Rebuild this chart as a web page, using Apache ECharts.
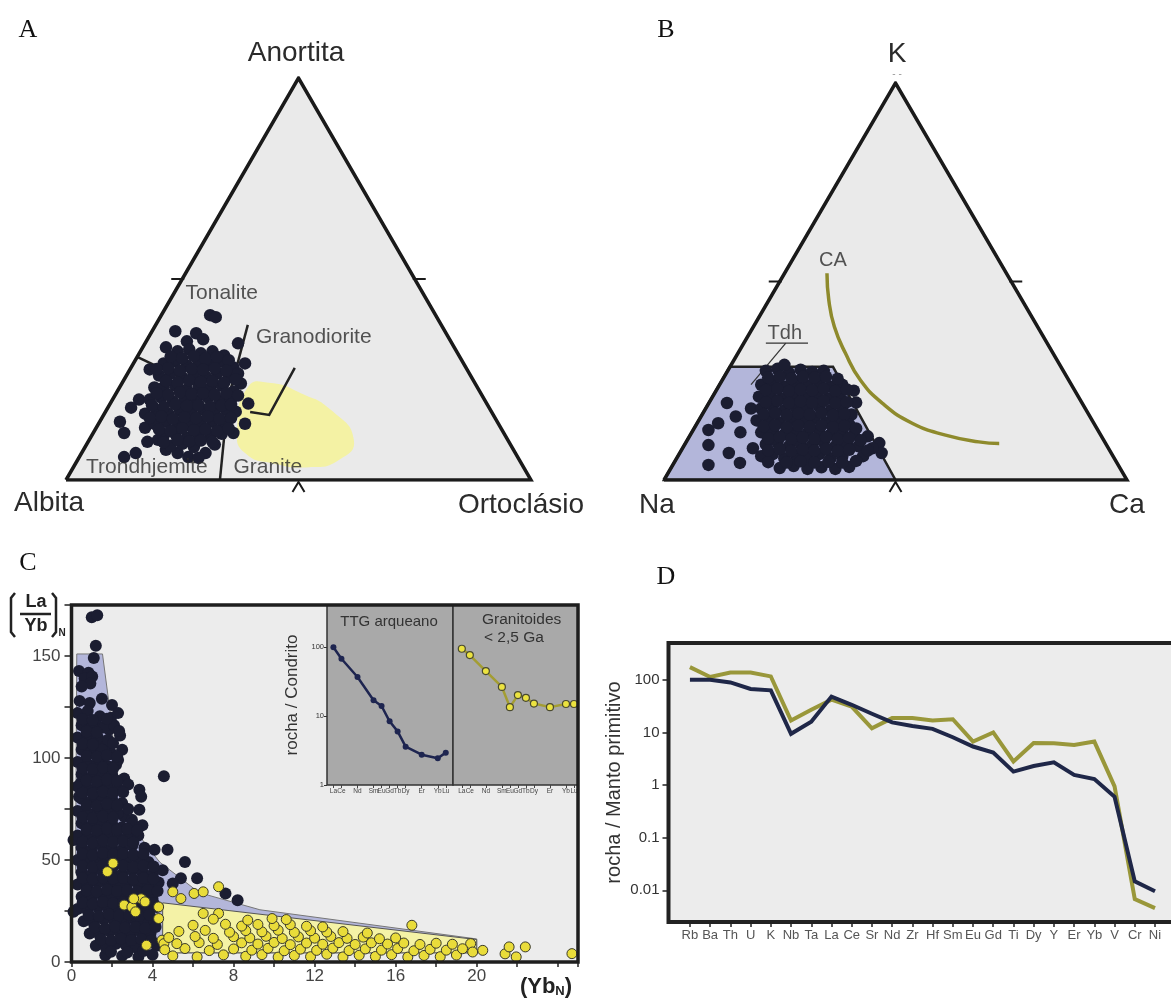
<!DOCTYPE html>
<html>
<head>
<meta charset="utf-8">
<script src="https://cdn.jsdelivr.net/npm/echarts@6/dist/echarts.min.js"></script>
<style>
  html, body { margin: 0; padding: 0; background: #fff; }
  #chart { width: 1171px; height: 1003px; }
</style>
</head>
<body>
<div id="chart"></div>
<script>
const FONT = '"Liberation Sans", Arial, Helvetica, sans-serif'
const SERIF = '"Liberation Serif", "Times New Roman", serif'

// ---- ternary frame (x along base 0..100, y = height 0..100) ----
const triangle = [[0, 0], [100, 0], [50, 100], [0, 0]]
const sideTicks = [[25, 50, 0], [75, 50, 1], [50, 0, 2]]

// ---- A: An-Ab-Or ----
const tonTrondLine = [[15.3, 30.6], [34.8, 19.9]]
const tonGranodLine = [[39.1, 38.6], [34.8, 19.9]]
const trondGraniteLine = [[34.8, 19.9], [33.1, 0]]
const granodGraniteLine = [[49.2, 27.9], [43.7, 16.2], [39.6, 16.9]]
const graniteField = [[36.8, 11.7], [39.1, 23.1], [44.1, 24.1], [50.5, 21.6], [57, 17.4], [61.9, 10], [58.7, 5], [52.3, 3.2], [44.1, 4.2], [38.5, 6.7]]
const samplesA = [
  [31, 41], [32.2, 40.5], [23.5, 37], [28, 36.5], [29.5, 35], [26, 34.5], [37, 34], [21.5, 33], [38.5, 29], [18, 27.5],
  [19, 23], [15.7, 20], [14, 18], [11.6, 14.5], [12.5, 11.7], [12.5, 5.7], [15, 6.7], [17, 13], [19.8, 10], [21.5, 7.5],
  [24, 6.7], [26.3, 5.7], [30, 6.7], [36, 11.7], [38.5, 14], [37.6, 24], [39.2, 19], [34.4, 17.4],
  [24, 32], [26.5, 32.5], [29, 31.5], [31.5, 32], [34, 31],
  [21, 29], [23.5, 29.5], [26, 28.5], [28.5, 29.2], [31, 28.8], [33.5, 29.5], [36, 28],
  [20, 26], [22.5, 26.5], [25, 25.5], [27.5, 26.2], [30, 25.8], [32.5, 26.5], [35, 25.5],
  [21, 23], [23.5, 23.5], [26, 22.5], [28.5, 23.2], [31, 22.8], [33.5, 23.5], [36, 22],
  [18, 20], [20.5, 20.5], [23, 19.5], [25.5, 20.2], [28, 19.8], [30.5, 20.5], [33, 19.5], [35.5, 20],
  [17, 16.5], [19.5, 17], [22, 16.5], [24.5, 17.2], [27, 16.8], [29.5, 17.5], [32, 16.5], [36.5, 17],
  [19, 14], [21.5, 14.5], [24, 13.5], [26.5, 14.2], [29, 13.8], [31.5, 14.5], [34, 13.5],
  [21, 11], [23.5, 11.5], [26, 10.5], [28.5, 11.2], [31, 10.8], [33.5, 11.5],
  [22.5, 8.5], [25, 9], [27.5, 8.2], [32, 8.8], [28.5, 5.5], [17.5, 9.5],
  [22.5, 30.7], [25, 30.3], [27.5, 30.8], [30, 30.2], [32.5, 30.6], [35, 29.8],
  [19.5, 27.6], [22, 27.8], [24.5, 27.2], [27, 27.6], [29.5, 27.4], [32, 27.8], [34.5, 27.2], [37, 26.5],
  [21.5, 24.6], [24, 24.2], [26.5, 24.8], [29, 24.4], [31.5, 24.6], [34, 24.2], [36.5, 25],
  [19.5, 21.6], [22, 21.2], [24.5, 21.8], [27, 21.4], [29.5, 21.6], [32, 21.2], [34.5, 21.6], [37, 21],
  [18.5, 18.6], [21, 18.2], [23.5, 18.8], [26, 18.4], [28.5, 18.6], [31, 18.2], [33.5, 18.5], [35.5, 18.7],
  [18, 15.4], [20.5, 15.8], [23, 15.2], [25.5, 15.6], [28, 15.4], [30.5, 15.8], [33, 15.2], [35.5, 15.4],
  [20, 12.6], [22.5, 12.2], [25, 12.8], [27.5, 12.4], [30, 12.6], [32.5, 12.2], [35, 12.8],
  [24, 10], [26.5, 9.6], [29, 9.8], [31.5, 9.5], [21, 9.4]
]
const labelsA = [
  { name: 'Tonalite', value: [33.5, 46.5] },
  { name: 'Granodiorite', value: [53.3, 35.6] },
  { name: 'Trondhjemite', value: [17.4, 3.2] },
  { name: 'Granite', value: [43.4, 3.2] }
]

// ---- B: K-Na-Ca ----
const tdhField = [[0, 0], [14.2, 28.5], [36.5, 28.5], [50, 0]]
const caCurve = [[35.2, 52.1], [35.6, 45.3], [36.8, 38.6], [39.2, 31.9], [42.4, 25.2], [47.2, 19.3], [53.6, 14.3], [60.8, 11.3], [68, 9.6], [72.4, 9.2]]
const tdhLeader = [[26.3, 34.5], [18.8, 24]]
const tdhUnderline = [[22, 34.5], [31.1, 34.5]]
const samplesB = [
  [13.6, 19.4], [15.5, 16], [9.6, 12.6], [11.7, 14.3], [9.6, 8.8], [9.6, 3.8], [14, 6.8], [16.4, 4.3], [19.2, 8], [18.8, 18], [16.5, 12],
  [22, 27.5], [24.5, 28], [27, 27], [29.5, 27.8], [32, 27.2], [34.5, 27.5], [26, 29],
  [21, 24], [23.5, 24.5], [26, 23.5], [28.5, 24.2], [31, 23.8], [33.5, 24.5], [36, 23.5], [38.5, 24], [41, 22.5],
  [20.5, 21], [23, 21.5], [25.5, 20.5], [28, 21.2], [30.5, 20.8], [33, 21.5], [35.5, 20.5], [38, 21], [41.5, 19.5],
  [21, 18], [23.5, 18.5], [26, 17.5], [28.5, 18.2], [31, 17.8], [33.5, 18.5], [36, 17.5], [38.5, 18], [40.5, 16.5],
  [20, 15], [22.5, 15.5], [25, 14.5], [27.5, 15.2], [30, 14.8], [32.5, 15.5], [35, 14.5], [37.5, 15], [40, 14],
  [21, 12], [23.5, 12.5], [26, 11.5], [28.5, 12.2], [31, 11.8], [33.5, 12.5], [36, 11.5], [38.5, 12], [41, 11.5], [44, 11],
  [22, 9], [24.5, 9.5], [27, 8.5], [29.5, 9.2], [32, 8.8], [34.5, 9.5], [37, 8.5], [39.5, 9], [42, 8.5], [46.5, 9.3],
  [21, 6], [23.5, 6.5], [26, 5.5], [28.5, 6.2], [31, 5.8], [33.5, 6.5], [36, 5.5], [38.5, 6], [43, 6], [47, 6.8], [45, 8],
  [25, 3], [28, 3.5], [31, 2.8], [34, 3.2], [37, 2.8], [40, 3.3],
  [22.5, 25.8], [25, 26], [27.5, 25.6], [30, 26], [32.5, 25.8], [35, 26], [37.5, 25.5],
  [22, 22.7], [24.5, 23], [27, 22.4], [29.5, 22.8], [32, 22.6], [34.5, 23], [37, 22.4], [39.5, 22.8],
  [22, 19.6], [24.5, 19.9], [27, 19.4], [29.5, 19.8], [32, 19.5], [34.5, 19.9], [37, 19.4], [39.5, 19.6],
  [21.5, 16.6], [24, 16.9], [26.5, 16.4], [29, 16.8], [31.5, 16.5], [34, 16.9], [36.5, 16.4], [39, 16.6],
  [21.5, 13.5], [24, 13.8], [26.5, 13.3], [29, 13.7], [31.5, 13.4], [34, 13.8], [36.5, 13.3], [39, 13.6], [41.5, 13],
  [22.5, 10.5], [25, 10.8], [27.5, 10.3], [30, 10.7], [32.5, 10.4], [35, 10.8], [37.5, 10.3], [40, 10.6], [42.5, 10],
  [22.5, 7.5], [25, 7.8], [27.5, 7.3], [30, 7.7], [32.5, 7.4], [35, 7.8], [37.5, 7.3], [40, 7.6], [44, 7.4],
  [22.5, 4.5], [26.5, 4.4], [29.5, 4.7], [32.5, 4.4], [35.5, 4.6], [38.5, 4.4], [41.5, 4.8]
]
const labelsB = [
  { name: 'Tdh', value: [26.1, 37] },
  { name: 'CA', value: [36.5, 55.4] }
]

// ---- C: (La/Yb)N vs YbN ----
const archeanField = [[0.26, 151], [1.53, 151], [1.9, 123], [2.47, 73], [4.35, 49], [6.3, 34], [9.3, 25.6], [20, 11.3], [20, 4.5], [4.5, 4.5], [0.8, 26], [0.2, 44]]
const youngField = [[4.5, 29], [20, 11], [20, 4.5], [4.5, 4.5]]
const ttgC = [
  [1.0, 169], [1.27, 170], [1.2, 155], [1.1, 149], [0.37, 142.6], [0.84, 141.8], [0.65, 139], [1.02, 140], [0.93, 136.5], [0.5, 135],
  [1.95, 119.7], [1.86, 114], [1.4, 120.5], [1.3, 115.6], [2.2, 96.7], [1.5, 99], [1.77, 105.7], [0.74, 105.7], [1.3, 107], [0.56, 97.5], [0.46, 87.7], [0.37, 81],
  [4.56, 91], [3.35, 84.4], [3.44, 81], [3.35, 74.6], [2.6, 71.3], [2.98, 69.7],
  [5.6, 49], [4.74, 55], [6.2, 41], [7.6, 33.6], [8.2, 30.3], [5.4, 41], [5.0, 38.5], [4.0, 38.5], [1.67, 3.3], [0.1, 24.6], [0.1, 59.8],
  [0.4, 128], [0.9, 127], [1.5, 129], [2.0, 126],
  [0.3, 122], [0.8, 123], [2.3, 122],
  [0.5, 116], [1.0, 117], [1.6, 115], [2.1, 116],
  [0.3, 110], [0.8, 111], [1.3, 110], [1.8, 109], [2.4, 111],
  [0.5, 104], [1.0, 103], [1.5, 104], [2.0, 102], [2.5, 104],
  [0.3, 98], [0.8, 97], [1.3, 98], [1.8, 96], [2.3, 99],
  [0.5, 92], [1.0, 91], [1.5, 93], [2.0, 92], [2.6, 90],
  [0.3, 86], [0.8, 85], [1.3, 87], [1.8, 86], [2.3, 85], [2.8, 87],
  [0.5, 80], [1.0, 79], [1.5, 81], [2.0, 80], [2.5, 78],
  [0.3, 74], [0.8, 73], [1.3, 75], [1.8, 74], [2.3, 73], [2.8, 75],
  [0.5, 68], [1.0, 67], [1.5, 69], [2.0, 68], [2.5, 66], [3.0, 68], [3.5, 67],
  [0.3, 62], [0.8, 61], [1.3, 63], [1.8, 62], [2.3, 61], [2.8, 63], [3.3, 62],
  [0.5, 56], [1.0, 55], [1.5, 57], [2.0, 56], [2.5, 55], [3.0, 57], [3.6, 56], [4.1, 55],
  [0.3, 50], [0.8, 49], [1.3, 51], [1.8, 50], [2.3, 49], [2.8, 51], [3.3, 50], [3.8, 49],
  [0.5, 44], [1.0, 43], [1.5, 45], [2.0, 44], [2.5, 43], [3.0, 45], [3.5, 44], [4.0, 43], [4.5, 45],
  [0.3, 38], [0.8, 37], [1.3, 39], [1.8, 38], [2.3, 37], [2.8, 39], [3.3, 38], [3.8, 37], [4.3, 39],
  [0.5, 32], [1.0, 31], [1.5, 33], [2.0, 32], [2.5, 31], [3.0, 33], [3.5, 32], [4.0, 31],
  [0.3, 26], [0.8, 25], [1.3, 27], [1.8, 26], [2.3, 25], [2.8, 27], [3.3, 26], [3.8, 25], [4.2, 27],
  [0.6, 20], [1.1, 19], [1.6, 21], [2.1, 20], [2.6, 19], [3.1, 21], [3.6, 20], [4.1, 19],
  [0.9, 14], [1.4, 13], [1.9, 15], [2.4, 14], [2.9, 13], [3.4, 15], [3.9, 14],
  [1.2, 8], [1.7, 7], [2.2, 9], [2.7, 8], [3.2, 7], [3.7, 9], [4.2, 8],
  [2.5, 3], [3.3, 2.5], [4.0, 3.5],
  [0.55, 59], [1.05, 58.5], [1.55, 59.5], [2.05, 58.8], [2.55, 59.2], [3.05, 58.6],
  [0.55, 53], [1.05, 52.5], [1.55, 53.4], [2.05, 52.8], [2.55, 53.2], [3.05, 52.6], [3.55, 53],
  [0.55, 47], [1.05, 46.6], [1.55, 47.4], [2.05, 46.8], [2.55, 47.2], [3.05, 46.6], [3.55, 47.2], [4.05, 46.8],
  [0.55, 41], [1.05, 40.6], [1.55, 41.4], [2.05, 40.8], [2.55, 41.2], [3.05, 40.6], [3.55, 41.2], [4.05, 40.8],
  [0.75, 35], [1.25, 34.6], [1.75, 35.4], [2.25, 34.8], [2.75, 35.2], [3.25, 34.6], [3.75, 35.2], [4.25, 34.8],
  [0.55, 29], [1.05, 28.6], [1.55, 29.4], [2.05, 28.8], [2.55, 29.2], [3.05, 28.6], [3.55, 29.2], [4.05, 28.8],
  [0.85, 23], [1.35, 22.6], [1.85, 23.4], [2.35, 22.8], [2.85, 23.2], [3.35, 22.6], [3.85, 23.2],
  [1.15, 17], [1.65, 16.6], [2.15, 17.4], [2.65, 16.8], [3.15, 17.2], [3.65, 16.6], [4.15, 17.2],
  [1.45, 11], [1.95, 10.6], [2.45, 11.4], [2.95, 10.8], [3.45, 11.2], [3.95, 10.6],
  [1.95, 5], [2.75, 4.6], [3.55, 5.4],
  [0.75, 65], [1.25, 64.6], [1.75, 65.4], [2.25, 64.8], [2.75, 65.2], [3.25, 64.6],
  [0.55, 71], [1.05, 70.6], [1.55, 71.4], [2.05, 70.8],
  [0.75, 77], [1.25, 76.6], [1.75, 77.4], [2.25, 76.8],
  [0.55, 83], [1.05, 82.6], [1.55, 83.4], [2.05, 82.8], [2.55, 83.2],
  [0.75, 89], [1.25, 88.6], [1.75, 89.4], [2.25, 88.8],
  [0.55, 95], [1.05, 94.6], [1.55, 95.4], [2.05, 94.8],
  [0.75, 101], [1.25, 100.6], [1.75, 101.4], [2.25, 100.8],
  [0.55, 107], [1.05, 106.6], [2.05, 107.2],
  [0.75, 113], [1.25, 112.6], [2.35, 113.2],
  [0.55, 119], [1.05, 118.6], [1.75, 119.2]
]
const youngC = [
  [1.77, 44.3], [2.05, 48.4], [2.6, 27.9], [2.98, 27], [3.16, 24.6], [3.44, 31], [3.63, 29.5], [3.07, 31], [4.3, 21.3], [4.3, 27],
  [4.47, 10.7], [4.56, 9], [3.7, 8.2], [5.0, 34.4], [5.4, 31.1], [6.05, 33.6], [6.5, 34.4], [7.26, 36.9], [6.5, 23.8], [7.26, 23.8],
  [16.8, 18], [20.3, 5.7], [21.4, 4], [21.95, 2.5], [21.6, 7.4], [22.4, 7.4], [24.7, 4.1], [19.7, 9], [19.8, 4.9],
  [5.0, 3], [6.2, 2.5], [7.5, 3.5], [8.6, 2.8], [9.4, 3.6], [10.2, 2.4], [11.0, 3.2], [11.8, 2.6], [12.6, 3.8], [13.4, 2.5],
  [14.2, 3.3], [15.0, 2.7], [15.8, 3.6], [16.6, 2.4], [17.4, 3.2], [18.2, 2.6], [19.0, 3.4],
  [4.6, 6], [5.6, 6.6], [6.8, 5.6], [8.0, 6.4], [8.9, 5.8], [9.7, 6.7], [10.5, 5.5], [11.3, 6.3], [12.1, 5.7], [12.9, 6.8],
  [13.7, 5.6], [14.5, 6.4], [15.3, 5.8], [16.1, 6.6], [16.9, 5.5], [17.7, 6.2], [18.5, 5.8], [19.3, 6.5],
  [5.2, 9], [6.3, 9.5], [7.2, 8.6], [8.4, 9.4], [9.2, 8.8], [10.0, 9.6], [10.8, 8.5], [11.6, 9.3], [12.4, 8.7], [13.2, 9.5],
  [14.0, 8.6], [14.8, 9.4], [15.6, 8.8], [16.4, 9.3], [17.2, 8.6], [18.0, 9.2], [18.8, 8.7],
  [4.8, 12], [6.1, 12.5], [7.0, 11.6], [8.0, 12.4], [8.8, 11.8], [9.6, 12.6], [10.4, 11.5], [11.2, 12.3], [12.0, 11.7], [12.8, 12.5],
  [13.6, 11.6], [14.4, 12.2], [15.2, 11.4], [16.0, 11.8],
  [5.3, 15], [6.6, 15.5], [7.8, 14.6], [8.6, 15.4], [9.4, 14.8], [10.2, 15.6], [11.0, 14.5], [11.8, 15.3], [12.6, 14.7], [13.4, 14.9], [14.6, 14.2],
  [6.0, 18], [7.6, 18.5], [8.4, 17.6], [9.2, 18.4], [10.0, 17.8], [10.8, 18.3], [11.6, 17.5], [12.4, 17.2],
  [7.0, 21], [8.7, 20.5], [9.9, 21.3], [10.6, 20.8]
]

// ---- C inset: REE patterns ----
const reeLabels = ['La', 'Ce', 'Nd', 'Sm', 'Eu', 'Gd', 'Tb', 'Dy', 'Er', 'Yb', 'Lu']
const reeAtomic = [57, 58, 60, 62, 63, 64, 65, 66, 68, 70, 71]
const reeTTG = [100, 68, 37, 17, 14, 8.4, 6, 3.6, 2.75, 2.45, 2.95]
const reeYoung = [95, 77, 45, 26.5, 13.5, 20.2, 18.4, 15.2, 13.5, 15, 15]

// ---- D: spider diagram ----
const elements = ['Rb', 'Ba', 'Th', 'U', 'K', 'Nb', 'Ta', 'La', 'Ce', 'Sr', 'Nd', 'Zr', 'Hf', 'Sm', 'Eu', 'Gd', 'Ti', 'Dy', 'Y', 'Er', 'Yb', 'V', 'Cr', 'Ni']
const spiderTTG = [100, 100, 89, 67, 63, 9.4, 16, 48, 33.5, 22.6, 15.5, 13.3, 11.7, 8.1, 5.4, 4.15, 1.8, 2.3, 2.7, 1.56, 1.3, 0.6, 0.0148, 0.0096]
const spiderYoung = [174, 113, 138, 138, 116, 16.8, 27, 42, 31, 12, 18.7, 18.7, 16.8, 17.8, 6.7, 10, 2.8, 6.3, 6.2, 5.8, 6.7, 0.94, 0.0068, 0.0046]
const spiderTicks = [0.01, 0.1, 1, 10, 100]

const NAVY = '#1b1d31'
const OLIVE = '#99973a'
const TEXT = '#2b2b2b'

// helpers
const polygonSeries = (g, pts, style, z, smooth) => ({
  type: 'custom', xAxisIndex: g, yAxisIndex: g, z: z, silent: true,
  data: [pts[0]],
  renderItem: (params, api) => ({
    type: 'polygon',
    shape: { points: pts.map(p => api.coord(p)), smooth: smooth || 0 },
    style: style
  })
})
const lineSeries = (g, pts, color, width, z, smooth) => ({
  type: 'line', xAxisIndex: g, yAxisIndex: g, z: z, silent: true,
  data: pts, symbol: 'none', smooth: !!smooth,
  lineStyle: { color: color, width: width, join: 'miter' }
})
const dotSeries = (g, pts, size, itemStyle, z) => ({
  type: 'scatter', xAxisIndex: g, yAxisIndex: g, z: z, silent: true,
  data: pts, symbolSize: size, clip: false, itemStyle: Object.assign({ opacity: 1 }, itemStyle)
})
const textSeries = (g, items, size, z) => ({
  type: 'scatter', xAxisIndex: g, yAxisIndex: g, z: z, silent: true, clip: false,
  data: items, symbolSize: 1, itemStyle: { color: 'transparent' },
  label: { show: true, position: 'inside', formatter: p => p.name, fontFamily: FONT, fontSize: size, color: TEXT }
})
const tickSeries = g => ({
  type: 'custom', xAxisIndex: g, yAxisIndex: g, z: 7, silent: true,
  data: sideTicks,
  renderItem: (params, api) => {
    const c = api.coord([api.value(0), api.value(1)])
    const k = api.value(2)
    let pts
    if (k === 0) pts = [[c[0] - 11, c[1]], [c[0] + 2, c[1]]]
    else if (k === 1) pts = [[c[0] - 2, c[1]], [c[0] + 11, c[1]]]
    else pts = [[c[0] - 6, c[1] + 12], [c[0], c[1] + 2], [c[0] + 6, c[1] + 12]]
    return { type: 'polyline', shape: { points: pts }, style: { stroke: '#1a1a1a', lineWidth: 2, fill: 'none' } }
  }
})

const hiddenAxis = (g) => ({ type: 'value', gridIndex: g, min: 0, max: 100, show: false })

const chart = echarts.init(document.getElementById('chart'))

const option = {
  animation: false,
  backgroundColor: '#ffffff',
  grid: [
    { left: 66, top: 78, width: 465, height: 402, outerBoundsMode: 'none' },
    { left: 664, top: 83, width: 463, height: 397, outerBoundsMode: 'none' },
    { left: 71.5, top: 605, width: 506.5, height: 357, show: true, backgroundColor: '#ececec', borderWidth: 0, outerBoundsMode: 'none' },
    { left: 327, top: 605, width: 126, height: 180, show: true, backgroundColor: '#a9a9a9', borderColor: '#333', borderWidth: 1.5, outerBoundsMode: 'none' },
    { left: 453, top: 605, width: 125, height: 180, show: true, backgroundColor: '#a9a9a9', borderColor: '#333', borderWidth: 1.5, outerBoundsMode: 'none' },
    { left: 668.5, top: 643, width: 504.7, height: 279, show: true, backgroundColor: '#ececec', borderColor: '#222', borderWidth: 4, outerBoundsMode: 'none' }
  ],
  xAxis: [
    hiddenAxis(0),
    hiddenAxis(1),
    {
      type: 'value', gridIndex: 2, min: 0, max: 25, interval: 2,
      axisLine: { show: false, onZero: false },
      axisTick: { show: true, length: 5, lineStyle: { color: '#222', width: 1.5 } },
      axisLabel: { formatter: v => (v % 4 === 0 && v <= 20 ? String(v) : ''), fontFamily: FONT, fontSize: 17, color: '#444', margin: 6 },
      splitLine: { show: false }
    },
    {
      type: 'value', gridIndex: 3, min: 56.2, max: 71.9,
      axisLine: { show: false, onZero: false },
      axisTick: { show: true, customValues: reeAtomic, length: 3, lineStyle: { color: '#444', width: 1 } },
      axisLabel: { customValues: reeAtomic, formatter: v => reeLabels[reeAtomic.indexOf(v)], fontFamily: FONT, fontSize: 6.5, color: '#444', margin: 3, hideOverlap: false },
      splitLine: { show: false }
    },
    {
      type: 'value', gridIndex: 4, min: 55.9, max: 71.5,
      axisLine: { show: false, onZero: false },
      axisTick: { show: true, customValues: reeAtomic, length: 3, lineStyle: { color: '#444', width: 1 } },
      axisLabel: { customValues: reeAtomic, formatter: v => reeLabels[reeAtomic.indexOf(v)], fontFamily: FONT, fontSize: 6.5, color: '#444', margin: 3, hideOverlap: false },
      splitLine: { show: false }
    },
    {
      type: 'value', gridIndex: 5, min: -1.06, max: 23.9,
      axisLine: { show: false, onZero: false },
      axisTick: { show: true, customValues: elements.map((e, i) => i), length: 5, lineStyle: { color: '#222', width: 1.5 } },
      axisLabel: { customValues: elements.map((e, i) => i), formatter: v => elements[v], fontFamily: FONT, fontSize: 13, color: '#555', margin: 7, hideOverlap: false },
      splitLine: { show: false }
    }
  ],
  yAxis: [
    hiddenAxis(0),
    hiddenAxis(1),
    {
      type: 'value', gridIndex: 2, min: 0, max: 175, interval: 25,
      axisLine: { show: false, onZero: false },
      axisTick: { show: true, length: 7, lineStyle: { color: '#222', width: 1.5 } },
      axisLabel: { formatter: v => (v % 50 === 0 ? String(v) : ''), fontFamily: FONT, fontSize: 17, color: '#444', margin: 11 },
      splitLine: { show: false }
    },
    {
      type: 'log', gridIndex: 3, min: 1, max: 410, logBase: 10,
      axisLine: { show: false, onZero: false },
      axisTick: { show: true, customValues: [1, 10, 100], length: 3, lineStyle: { color: '#333', width: 1 } },
      axisLabel: { customValues: [1, 10, 100], formatter: v => String(Math.round(v)), fontFamily: FONT, fontSize: 7.5, color: '#333', margin: 3 },
      splitLine: { show: false },
      name: 'rocha / Condrito', nameLocation: 'middle', nameGap: 26,
      nameTextStyle: { fontFamily: FONT, fontSize: 17, color: '#333' }
    },
    { type: 'log', gridIndex: 4, min: 1, max: 410, logBase: 10, show: false, axisLine: { onZero: false } },
    {
      type: 'log', gridIndex: 5, min: 0.0025, max: 500, logBase: 10,
      axisLine: { show: false, onZero: false },
      axisTick: { show: true, customValues: spiderTicks, length: 6, lineStyle: { color: '#222', width: 1.5 } },
      axisLabel: { customValues: spiderTicks, formatter: v => (v >= 1 ? String(Math.round(v)) : String(+v.toPrecision(1))), fontFamily: FONT, fontSize: 15, color: '#333', margin: 9 },
      splitLine: { show: false },
      name: 'rocha / Manto primitivo', nameLocation: 'middle', nameGap: 44,
      nameTextStyle: { fontFamily: FONT, fontSize: 20, color: '#333' }
    }
  ],
  series: [
    // A
    polygonSeries(0, triangle, { fill: '#eaeaea' }, 1),
    polygonSeries(0, graniteField, { fill: '#f4f2a4' }, 2, 0.55),
    lineSeries(0, tonTrondLine, '#222', 2.5, 3),
    lineSeries(0, tonGranodLine, '#222', 2.5, 3),
    lineSeries(0, trondGraniteLine, '#222', 2.5, 3),
    lineSeries(0, granodGraniteLine, '#222', 2.5, 3),
    dotSeries(0, samplesA, 12.5, { color: NAVY }, 4),
    lineSeries(0, triangle, '#1a1a1a', 3.5, 6),
    tickSeries(0),
    textSeries(0, labelsA, 21, 8),
    // B
    polygonSeries(1, triangle, { fill: '#eaeaea' }, 1),
    polygonSeries(1, tdhField, { fill: '#b3b6da', stroke: '#222', lineWidth: 2.5 }, 2),
    lineSeries(1, caCurve, '#8e8a2c', 3.5, 3, true),
    lineSeries(1, tdhLeader, '#333', 1.2, 3),
    lineSeries(1, tdhUnderline, '#333', 1.2, 3),
    dotSeries(1, samplesB, 12.5, { color: NAVY }, 4),
    lineSeries(1, triangle, '#1a1a1a', 3.5, 6),
    tickSeries(1),
    textSeries(1, labelsB, 20, 8),
    // C
    polygonSeries(2, archeanField, { fill: '#b3b6da', stroke: '#777', lineWidth: 1 }, 1),
    dotSeries(2, ttgC, 12, { color: NAVY }, 2),
    polygonSeries(2, youngField, { fill: '#f4f2a6', stroke: '#555', lineWidth: 1 }, 3),
    dotSeries(2, youngC, 10, { color: '#e9dc3a', borderColor: '#3a3a2a', borderWidth: 1 }, 4),
    {
      type: 'line', xAxisIndex: 3, yAxisIndex: 3, z: 5, silent: true,
      data: reeAtomic.map((a, i) => [a, reeTTG[i]]),
      symbol: 'circle', symbolSize: 6,
      lineStyle: { color: '#1e2550', width: 2.5 }, itemStyle: { color: '#1e2550', opacity: 1 }
    },
    {
      type: 'line', xAxisIndex: 4, yAxisIndex: 4, z: 5, silent: true,
      data: reeAtomic.map((a, i) => [a, reeYoung[i]]),
      symbol: 'circle', symbolSize: 7,
      lineStyle: { color: '#a39d33', width: 2.5 }, itemStyle: { color: '#ece340', borderColor: '#4a4a30', borderWidth: 1.2, opacity: 1 }
    },
    // D
    {
      type: 'line', xAxisIndex: 5, yAxisIndex: 5, z: 3, silent: true,
      data: spiderYoung.map((v, i) => [i, v]), symbol: 'none',
      lineStyle: { color: OLIVE, width: 4, join: 'miter' }
    },
    {
      type: 'line', xAxisIndex: 5, yAxisIndex: 5, z: 4, silent: true,
      data: spiderTTG.map((v, i) => [i, v]), symbol: 'none',
      lineStyle: { color: '#1f2748', width: 4, join: 'miter' }
    }
  ],
  graphic: [
    // panel letters
    { type: 'text', z: 100, style: { text: 'A', x: 28, y: 30, font: '26px ' + SERIF, fill: '#111', align: 'center', verticalAlign: 'middle' } },
    { type: 'text', z: 100, style: { text: 'B', x: 666, y: 30, font: '26px ' + SERIF, fill: '#111', align: 'center', verticalAlign: 'middle' } },
    { type: 'text', z: 100, style: { text: 'C', x: 28, y: 563, font: '26px ' + SERIF, fill: '#111', align: 'center', verticalAlign: 'middle' } },
    { type: 'text', z: 100, style: { text: 'D', x: 666, y: 577, font: '26px ' + SERIF, fill: '#111', align: 'center', verticalAlign: 'middle' } },
    // ternary vertices
    { type: 'text', z: 100, style: { text: 'Anortita', x: 296, y: 53, font: '28px ' + FONT, fill: TEXT, align: 'center', verticalAlign: 'middle' } },
    { type: 'text', z: 100, style: { text: 'Albita', x: 49, y: 503, font: '28px ' + FONT, fill: TEXT, align: 'center', verticalAlign: 'middle' } },
    { type: 'text', z: 100, style: { text: 'Ortoclásio', x: 521, y: 505, font: '28px ' + FONT, fill: TEXT, align: 'center', verticalAlign: 'middle' } },
    { type: 'text', z: 100, style: { text: 'K', x: 897, y: 54, font: '28px ' + FONT, fill: TEXT, align: 'center', verticalAlign: 'middle' } },
    { type: 'text', z: 100, style: { text: '- -', x: 897, y: 74, font: '10px ' + FONT, fill: '#999', align: 'center', verticalAlign: 'middle' } },
    { type: 'text', z: 100, style: { text: 'Na', x: 657, y: 505, font: '28px ' + FONT, fill: TEXT, align: 'center', verticalAlign: 'middle' } },
    { type: 'text', z: 100, style: { text: 'Ca', x: 1127, y: 505, font: '28px ' + FONT, fill: TEXT, align: 'center', verticalAlign: 'middle' } },
    // C frame
    { type: 'rect', z: 100, silent: true, shape: { x: 71.5, y: 605, width: 506.5, height: 357 }, style: { fill: 'none', stroke: '#1e1e1e', lineWidth: 3.5 } },
    // C inset titles
    { type: 'text', z: 100, style: { text: 'TTG arqueano', x: 389, y: 622, font: '15px ' + FONT, fill: '#333', align: 'center', verticalAlign: 'middle' } },
    { type: 'text', z: 100, style: { text: 'Granitoides', x: 482, y: 620, font: '15.5px ' + FONT, fill: '#333', align: 'left', verticalAlign: 'middle' } },
    { type: 'text', z: 100, style: { text: '< 2,5 Ga', x: 484, y: 638, font: '15.5px ' + FONT, fill: '#333', align: 'left', verticalAlign: 'middle' } },
    // C y title (La/Yb)N
    { type: 'text', z: 100, style: { text: 'La', x: 36, y: 602, font: 'bold 18px ' + FONT, fill: '#222', align: 'center', verticalAlign: 'middle' } },
    { type: 'line', z: 100, shape: { x1: 20, y1: 614, x2: 51, y2: 614 }, style: { stroke: '#222', lineWidth: 2.5 } },
    { type: 'text', z: 100, style: { text: 'Yb', x: 36, y: 626, font: 'bold 18px ' + FONT, fill: '#222', align: 'center', verticalAlign: 'middle' } },
    { type: 'polyline', z: 100, shape: { points: [[15, 593], [11, 598], [11, 632], [15, 637]] }, style: { stroke: '#222', lineWidth: 2.5, fill: 'none' } },
    { type: 'polyline', z: 100, shape: { points: [[52, 593], [56, 598], [56, 632], [52, 637]] }, style: { stroke: '#222', lineWidth: 2.5, fill: 'none' } },
    { type: 'text', z: 100, style: { text: 'N', x: 62, y: 633, font: 'bold 10px ' + FONT, fill: '#222', align: 'center', verticalAlign: 'middle' } },
    // C x title (YbN)
    {
      type: 'text', z: 100,
      style: {
        text: '{a|(Yb}{b|N}{a|)}', x: 546, y: 987, align: 'center', verticalAlign: 'middle',
        rich: {
          a: { fontSize: 22, fontWeight: 'bold', fontFamily: FONT, fill: '#222' },
          b: { fontSize: 13, fontWeight: 'bold', fontFamily: FONT, fill: '#222', verticalAlign: 'bottom' }
        }
      }
    }
  ]
}

chart.setOption(option)
</script>
</body>
</html>
